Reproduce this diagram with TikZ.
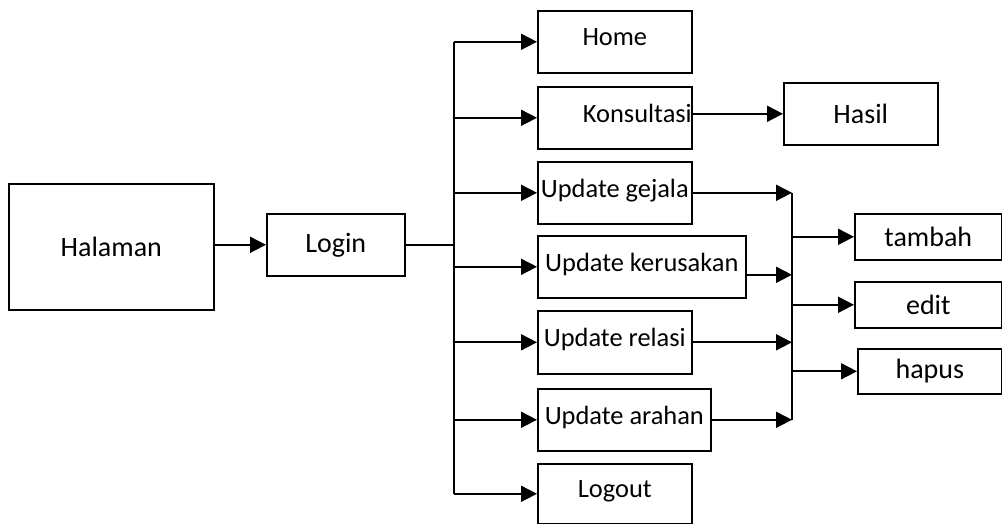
\documentclass[tikz,border=0pt]{standalone}
\usepackage{fontspec}
\setmainfont{Carlito}
\usetikzlibrary{arrows.meta,calc}
\tikzset{
  box/.style={draw, line width=1.6pt, inner sep=0pt, anchor=north west, text depth=9pt, font=\fontsize{26.4}{30}\selectfont},
  bigbox/.style={box, text depth=, font=\fontsize{28}{32}\selectfont},
  arr/.style={line width=1.8pt, -{Triangle[length=16pt,width=16pt]}},
  ln/.style={line width=1.8pt}
}
\begin{document}
\begin{tikzpicture}[x=1pt,y=-1pt]
  %%%%% START %%%%%
  \useasboundingbox (0,0) rectangle (1002,524);

  \node[bigbox, minimum width=205, minimum height=126] (halaman) at (8,183) {Halaman};
  \node[bigbox, minimum width=138, minimum height=62] (login) at (266,213) {Login};

  % menu
  \node[box, minimum width=154, minimum height=62] (home) at (537,10) {Home};
  \node[box, minimum width=154, minimum height=62, text width=154, align=right] (kons) at (537,86) {Konsultasi};
  \node[box, minimum width=154, minimum height=62] (gejala) at (537,161) {Update gejala};
  \node[box, minimum width=208, minimum height=62] (rusak) at (537,235) {Update kerusakan};
  \node[box, minimum width=154, minimum height=63] (relasi) at (537,310) {Update relasi};
  \node[box, minimum width=173, minimum height=62] (arahan) at (537,388) {Update arahan};
  \node[box, minimum width=154, minimum height=60] (logout) at (537,463) {Logout};

  \node[bigbox, minimum width=154, minimum height=62] (hasil) at (783,82) {Hasil};

  % sub menu
  \node[bigbox, minimum width=147, minimum height=46] (tambah) at (854,213) {tambah};
  \node[bigbox, minimum width=147, minimum height=46] (edit) at (854,281) {edit};
  \node[bigbox, minimum width=144, minimum height=45] (hapus) at (857,348) {hapus};

  \coordinate (bus) at (454,0);
  \coordinate (merge) at (792,0);

  \draw[arr] (login.west -| halaman.east) -- (login.west);
  \draw[ln] (login.east) -- (login.east -| bus);
  \draw[ln] (home.west -| bus) -- (logout.west -| bus);
  \foreach \n in {home,kons,gejala,rusak,relasi,arahan,logout}
    \draw[arr] (\n.west -| bus) -- (\n.west);

  \draw[arr] (kons.east |- hasil) -- (hasil.west);

  \draw[arr] (gejala.east) -- (gejala.east -| merge);
  \draw[arr] ($(rusak.east)+(0,8)$) -- ($(rusak.east -| merge)+(0,8)$);
  \draw[arr] (relasi.east) -- (relasi.east -| merge);
  \draw[arr] (arahan.east) -- (arahan.east -| merge);
  \draw[ln] (gejala.east -| merge) -- (arahan.east -| merge);
  \foreach \n in {tambah,edit,hapus}
    \draw[arr] (\n.west -| merge) -- (\n.west);
  %%%%% END %%%%%
\end{tikzpicture}
\end{document}
